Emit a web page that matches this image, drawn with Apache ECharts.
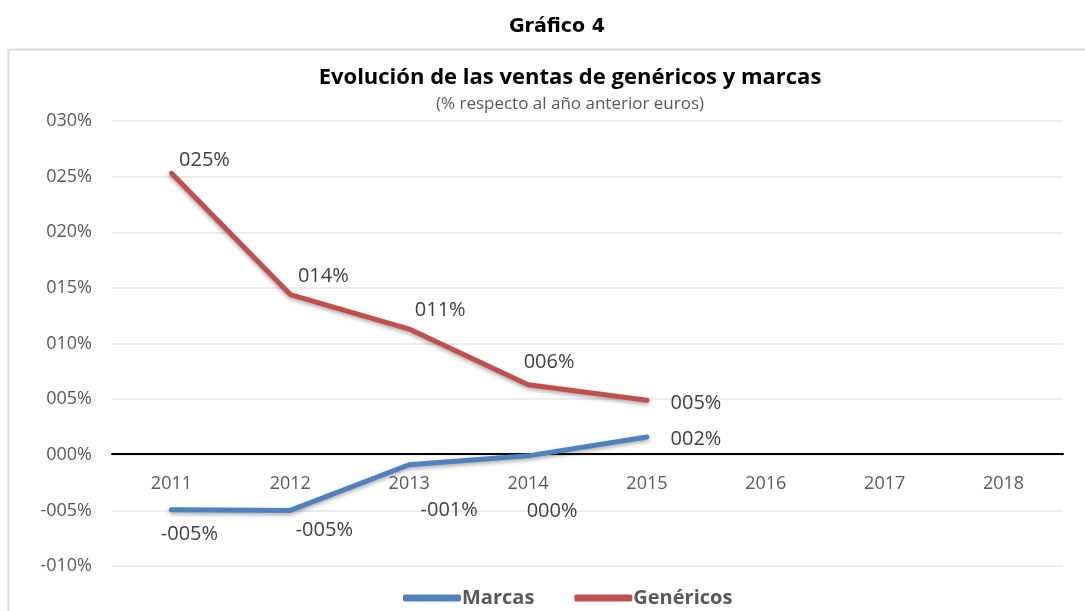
<!DOCTYPE html>
<html>
<head>
<meta charset="utf-8">
<script src="https://cdn.jsdelivr.net/npm/echarts@6/dist/echarts.min.js"></script>
<style>
  html, body { margin: 0; padding: 0; background: #fff; }
  #chart { width: 1085px; height: 611px; }
</style>
</head>
<body>
<div id="chart"></div>
<script>
// datos
const years = ['2011', '2012', '2013', '2014', '2015', '2016', '2017', '2018'];
const marcas = [-4.95, -5.0, -0.9, -0.1, 1.6];
const genericos = [25.3, 14.4, 11.3, 6.3, 4.9];

// formato tipo Excel: 025%, -005%
function pct(v) {
  const r = Math.round(v);
  const s = String(Math.abs(r)).padStart(3, '0');
  return (v < 0 && r !== 0 ? '-' : '') + s + '%';
}

// desplazamiento de las etiquetas respecto al punto
const offMarcas = [[18, 24], [34, 20], [40, 46], [24, 55], [49, 2]];
const offGen = [[33, -13], [33, -18], [31, -19], [21, -22], [49, 3]];

function layoutFor(offs) {
  return function (p) {
    const o = offs[p.dataIndex] || [0, 0];
    return {
      x: p.rect.x + p.rect.width / 2 + o[0],
      y: p.rect.y + p.rect.height / 2 + o[1],
      align: 'center',
      verticalAlign: 'middle'
    };
  };
}

const chart = echarts.init(document.getElementById('chart'));
chart.setOption({
  animation: false,
  textStyle: { fontFamily: 'Open Sans' },
  graphic: [
    {
      type: 'rect',
      shape: { x: 8.5, y: 49.5, width: 1085, height: 600 },
      style: { fill: 'none', stroke: '#d9d9d9', lineWidth: 2 },
      z: -1
    }
  ],
  title: [
    {
      text: 'Gráfico 4',
      left: 552, top: 13, textAlign: 'center',
      textStyle: { fontFamily: 'DejaVu Sans', fontWeight: 'bold', fontSize: 19, color: '#000' }
    },
    {
      text: 'Evolución de las ventas de genéricos y marcas',
      subtext: '(% respecto al año anterior euros)',
      left: 565, top: 62, textAlign: 'center', itemGap: 7,
      textStyle: { fontFamily: 'Open Sans', fontWeight: 'bold', fontSize: 22, color: '#000' },
      subtextStyle: { fontFamily: 'Open Sans', fontSize: 17, color: '#595959' }
    }
  ],
  legend: {
    bottom: -2, left: 398,
    itemWidth: 58, itemHeight: 7, itemGap: 40,
    icon: 'roundRect',
    textStyle: { fontFamily: 'Open Sans', fontWeight: 'bold', fontSize: 20, color: '#595959', padding: [0, 0, 0, -4] },
    data: ['Marcas', 'Genéricos']
  },
  grid: { left: 112, right: 22, top: 121, bottom: 45, containLabel: false },
  xAxis: {
    type: 'category',
    data: years,
    boundaryGap: true,
    offset: -112,
    axisLine: { onZero: false, lineStyle: { color: '#000', width: 2 } },
    axisTick: { show: false },
    axisLabel: { margin: 21, fontSize: 18, color: '#595959' }
  },
  yAxis: {
    type: 'value',
    min: -10, max: 30, interval: 5,
    axisLine: { show: false },
    axisTick: { show: false },
    axisLabel: { fontSize: 18, color: '#595959', margin: 20, formatter: v => pct(v) },
    splitLine: { lineStyle: { color: '#e6e6e6', width: 1.5 } }
  },
  series: [
    {
      name: 'Marcas',
      type: 'line',
      data: marcas,
      color: '#4f81bd',
      symbol: 'circle', symbolSize: 1, showSymbol: true,
      lineStyle: { width: 5, color: '#4f81bd', cap: 'round', shadowColor: 'rgba(0,0,0,0.35)', shadowBlur: 4, shadowOffsetY: 2 },
      label: { show: true, fontSize: 20, color: '#404040', formatter: p => pct(p.value) },
      labelLayout: layoutFor(offMarcas)
    },
    {
      name: 'Genéricos',
      type: 'line',
      data: genericos,
      color: '#c0504d',
      symbol: 'circle', symbolSize: 1, showSymbol: true,
      lineStyle: { width: 5, color: '#c0504d', cap: 'round', shadowColor: 'rgba(0,0,0,0.35)', shadowBlur: 4, shadowOffsetY: 2 },
      label: { show: true, fontSize: 20, color: '#404040', formatter: p => pct(p.value) },
      labelLayout: layoutFor(offGen)
    }
  ]
});
</script>
</body>
</html>
